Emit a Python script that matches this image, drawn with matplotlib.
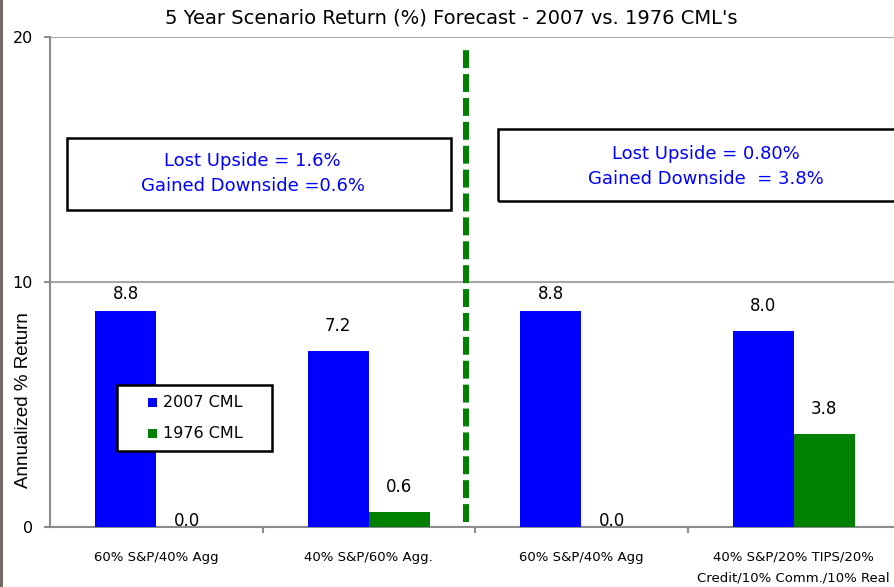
import matplotlib
matplotlib.use("Agg")
import matplotlib.pyplot as plt
from matplotlib.patches import Rectangle
import numpy as np

categories = ["60% S&P/40% Agg", "40% S&P/60% Agg.", "60% S&P/40% Agg",
              "40% S&P/20% TIPS/20%\nCredit/10% Comm./10% Real"]
cml_2007 = [8.8, 7.2, 8.8, 8.0]
cml_1976 = [0.0, 0.6, 0.0, 3.8]
series_names = ["2007 CML", "1976 CML"]
yticks = [0, 10, 20]
title = "5 Year Scenario Return (%) Forecast - 2007 vs. 1976 CML's"
ylabel = "Annualized % Return"
box_texts = ["Lost Upside = 1.6%\nGained Downside =0.6%",
             "Lost Upside = 0.80%\nGained Downside  = 3.8%"]

BLUE = "#0000FF"
GREEN = "#008000"
GRAY = "#8C8C8C"

plt.rcParams['font.family'] = ['DejaVu Sans']
fig = plt.figure(figsize=(8.94, 5.87), dpi=100)
ax = fig.add_axes([50/894, 1-527/587, 850/894, 490/587])

x = np.arange(len(categories))
w = 0.287
b1 = ax.bar(x - w/2, cml_2007, w, color=BLUE, zorder=3)
b2 = ax.bar(x + w/2, cml_1976, w, color=GREEN, zorder=3)

for bars, vals in ((b1, cml_2007), (b2, cml_1976)):
    for r, v in zip(bars, vals):
        if v == 0:
            off = -2.0
        elif v > 8.5:
            off = 5.8
        else:
            off = 11.5
        ax.annotate(f"{v:.1f}", (r.get_x() + r.get_width()/2, v),
                    xytext=(0, off), textcoords="offset points",
                    ha="center", va="bottom", fontsize=12, color="black", zorder=4)

ax.set_xlim(-0.5, 3.5)
ax.set_ylim(0, 20)
ax.set_yticks(yticks)
ax.set_yticklabels([str(t) for t in yticks], fontsize=11.5)
ax.yaxis.grid(True, color="#A6A6A6", linewidth=1.5, zorder=0)
ax.set_xticks(x)
ax.set_xticklabels(categories, fontsize=9.5, linespacing=1.75)
ax.tick_params(axis="x", which="major", length=0, pad=17)
ax.set_xticks([0.5, 1.5, 2.5], minor=True)
ax.tick_params(axis="x", which="minor", length=4.5, width=1.5, color=GRAY)
ax.tick_params(axis="y", length=4.5, width=1.5, color=GRAY, pad=8)

for s in ("top", "right"):
    ax.spines[s].set_visible(False)
for s in ("left", "bottom"):
    ax.spines[s].set_color(GRAY)
    ax.spines[s].set_linewidth(1.5)

fig.text(451/894, 1 - 18/587, title, ha="center", va="center", fontsize=14)
ax.set_ylabel(ylabel, fontsize=13.5, family=["Liberation Sans", "DejaVu Sans"])
ax.yaxis.set_label_coords(-0.0212, 0.259)

# divider
ln, = ax.plot([1.457, 1.457], [0.2, 19.47], color=GREEN, linewidth=4.3, zorder=5,
              solid_capstyle="butt")
ln.set_dashes([3.0, 1.0])
ln.set_dash_capstyle("butt")

# annotation boxes
ax.add_patch(Rectangle((-0.42, 12.94), 1.807, 2.94, fill=False, edgecolor="black",
                       linewidth=1.8, zorder=4))
ax.add_patch(Rectangle((1.608, 13.3), 1.96, 2.94, fill=False, edgecolor="black",
                       linewidth=1.8, zorder=4, clip_on=False))
ax.text(0.454, 14.41, box_texts[0], ha="center", va="center", color=BLUE,
        fontsize=13, linespacing=1.5, zorder=5)
ax.text(2.587, 14.73, box_texts[1], ha="center", va="center", color=BLUE,
        fontsize=13, linespacing=1.5, zorder=5)

# legend
ax.add_patch(Rectangle((0.0788, 0.1551), 0.1824, 0.1347, transform=ax.transAxes,
                       facecolor="white", edgecolor="black", linewidth=1.8, zorder=6))
for name, col, yc in ((series_names[0], BLUE, 0.2531), (series_names[1], GREEN, 0.1918)):
    ax.add_patch(Rectangle((0.1153, yc - 0.0092), 0.0106, 0.0184, transform=ax.transAxes,
                           facecolor=col, edgecolor="none", zorder=7))
    ax.text(0.1329, yc, name, transform=ax.transAxes, ha="left", va="center",
            fontsize=11.5, zorder=7)

fig.patches.append(Rectangle((0, 0), 3/894, 1, transform=fig.transFigure,
                             facecolor="#736B63", edgecolor="none"))

fig.savefig("out.png", dpi=100)
